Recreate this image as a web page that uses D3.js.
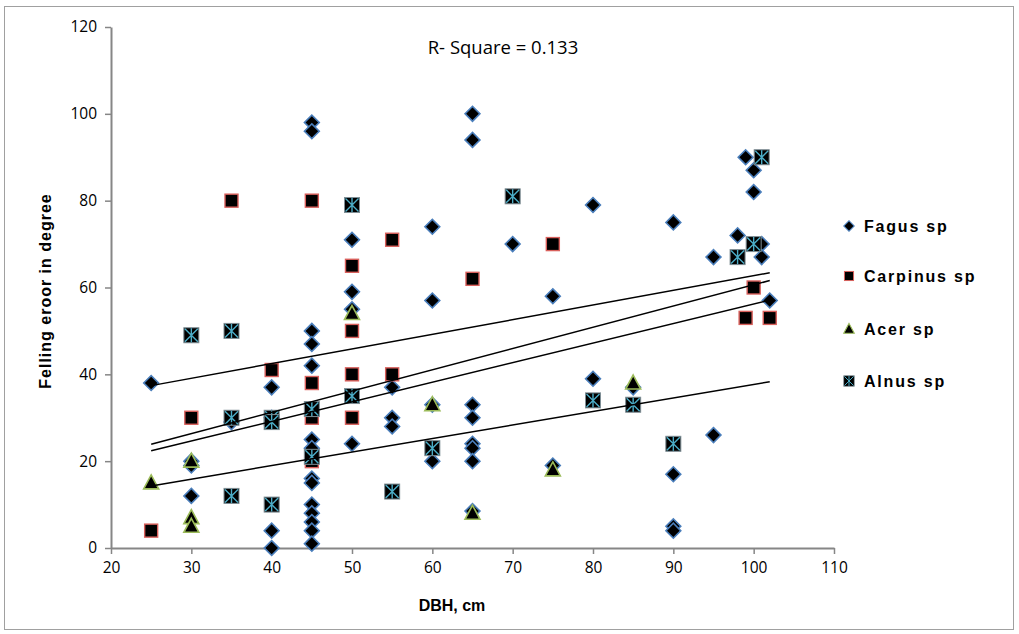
<!DOCTYPE html>
<html><head><meta charset="utf-8">
<script src="https://cdn.jsdelivr.net/npm/d3@7"></script>
<style>body{margin:0;background:#fff}svg{display:block}</style>
</head><body><svg id="c" width="1019" height="634"></svg>
<script>
const seriesNames = ["Fagus sp","Carpinus sp","Acer sp","Alnus sp"];
const fagus = [[25,38],[30,20],[30,19],[30,12],[35,29],[40,37],[40,30],[40,4],[40,0],
 [45,98],[45,96],[45,50],[45,47],[45,42],[45,25],[45,23],[45,16],[45,15],[45,10],[45,8],[45,6],[45,4],[45,1],
 [50,71],[50,59],[50,55],[50,24],[55,37],[55,30],[55,28],[60,74],[60,57],[60,33],[60,20],
 [65,100],[65,94],[65,33],[65,30],[65,24],[65,23],[65,20],[65,8.5],[70,70],[75,58],[75,19],
 [80,79],[80,39],[85,37],[90,75],[90,17],[90,5],[90,4],[95,67],[95,26],[98,72],[99,90],
 [100,87],[100,82],[101,70],[101,67],[102,57]];
const carpinus = [[25,4],[30,30],[35,80],[40,41],[45,80],[45,38],[45,30],[45,20],[50,65],[50,50],[50,40],[50,30],
 [55,71],[55,40],[65,62],[75,70],[99,53],[100,60],[102,53]];
const acer = [[25,15],[30,20],[30,7],[30,5],[50,54],[60,33],[65,8],[75,18],[85,38]];
const alnus = [[30,49],[35,50],[35,30],[35,12],[40,30],[40,29],[40,10],[45,32],[45,21],[50,79],[50,35],[55,13],
 [60,23],[70,81],[80,34],[85,33],[90,24],[98,67],[100,70],[101,90]];
const trendX = [25,102];
const trendStart = [37.4,23.9,22.4,14.3];
const trendEnd = [63.4,61.6,57.1,38.3];
const xTicks = [20,30,40,50,60,70,80,90,100,110];
const yTicks = [0,20,40,60,80,100,120];
const rSquare = "R- Square = 0.133";

const svg = d3.select("#c");
svg.append("rect").attr("x",4.5).attr("y",6.5).attr("width",1009).attr("height",623)
  .attr("fill","none").attr("stroke","#a0a0a0").attr("stroke-width",1);

const x = d3.scaleLinear().domain([20,110]).range([111,834]);
const y = d3.scaleLinear().domain([0,120]).range([548,27]);
const axisCol = "#868686";
const tickFont = "'Open Sans', 'Liberation Sans', sans-serif";
const boldFont = "'Liberation Sans', Arial, sans-serif";

const gx = svg.append("g").attr("transform","translate(0,548)")
  .call(d3.axisBottom(x).tickValues(xTicks).tickSize(6).tickSizeOuter(0).tickPadding(8));
const gy = svg.append("g").attr("transform","translate(111,0)")
  .call(d3.axisLeft(y).tickValues(yTicks).tickSize(6).tickSizeOuter(0).tickPadding(8));
[gx,gy].forEach(g=>{
  g.select(".domain").attr("stroke",axisCol).attr("stroke-width",2);
  g.selectAll(".tick line").attr("stroke",axisCol).attr("stroke-width",1.5);
  g.selectAll(".tick text").attr("fill","#000").style("font-family",tickFont).style("font-size","15.5px");
});

const blue="#4a7ebb", red="#d9605c", green="#9bbb59", cyan="#4bacc6";
function drawFagus(sel){ sel.append("path").attr("d",d3.symbol().type(d3.symbolSquare).size(110)())
  .attr("transform","rotate(45)").attr("fill","#000").attr("stroke",blue).attr("stroke-width",1.6); }
function drawCarp(sel){ sel.append("rect").attr("x",-6.5).attr("y",-6.5).attr("width",13).attr("height",13)
  .attr("fill","#000").attr("stroke",red).attr("stroke-width",1.4); }
function drawAcer(sel){ sel.append("path").attr("d","M0,-8L7.5,6L-7.5,6Z")
  .attr("fill","#000").attr("stroke",green).attr("stroke-width",1.6); }
function drawAlnus(sel){ sel.append("rect").attr("x",-7.5).attr("y",-7.5).attr("width",15).attr("height",15)
  .attr("fill","#000").attr("stroke","#7f8f96").attr("stroke-width",1);
  sel.append("path").attr("d","M-6.5,-6.5L6.5,6.5M6.5,-6.5L-6.5,6.5M0,-7L0,7").attr("stroke",cyan).attr("stroke-width",1.4); }

const layers = [[fagus,drawFagus],[carpinus,drawCarp],[acer,drawAcer],[alnus,drawAlnus]];
layers.forEach(([data,fn])=>{
  svg.append("g").selectAll("g").data(data).join("g")
    .attr("transform",d=>`translate(${x(d[0])},${y(d[1])})`).each(function(){ fn(d3.select(this)); });
});

const line = d3.line().x(d=>x(d[0])).y(d=>y(d[1]));
trendStart.forEach((s,i)=>{
  svg.append("path").attr("d",line([[trendX[0],s],[trendX[1],trendEnd[i]]]))
    .attr("fill","none").attr("stroke","#000").attr("stroke-width",1.5);
});

svg.append("text").attr("x",503).attr("y",54).attr("text-anchor","middle")
  .style("font-family",tickFont).style("font-size","18.5px").text(rSquare);

svg.append("text").attr("x",452).attr("y",611).attr("text-anchor","middle")
  .style("font-family",boldFont).style("font-weight","bold").style("font-size","16px").text("DBH, cm");
svg.append("text").attr("transform","translate(51,291) rotate(-90)").attr("text-anchor","middle")
  .style("font-family",boldFont).style("font-weight","bold").style("font-size","16px")
  .style("letter-spacing","1px").text("Felling eroor in degree");

const legY = [226,276,329,381];
const legFns = [drawFagus,drawCarp,drawAcer,drawAlnus];
seriesNames.forEach((n,i)=>{
  const g = svg.append("g").attr("transform",`translate(849,${legY[i]})`);
  const m = g.append("g").attr("transform","scale(0.7)");
  legFns[i](m);
  g.append("text").attr("x",15).attr("y",6)
    .style("font-family",boldFont).style("font-weight","bold").style("font-size","16px")
    .style("letter-spacing","1.8px").text(n);
});
</script></body></html>
